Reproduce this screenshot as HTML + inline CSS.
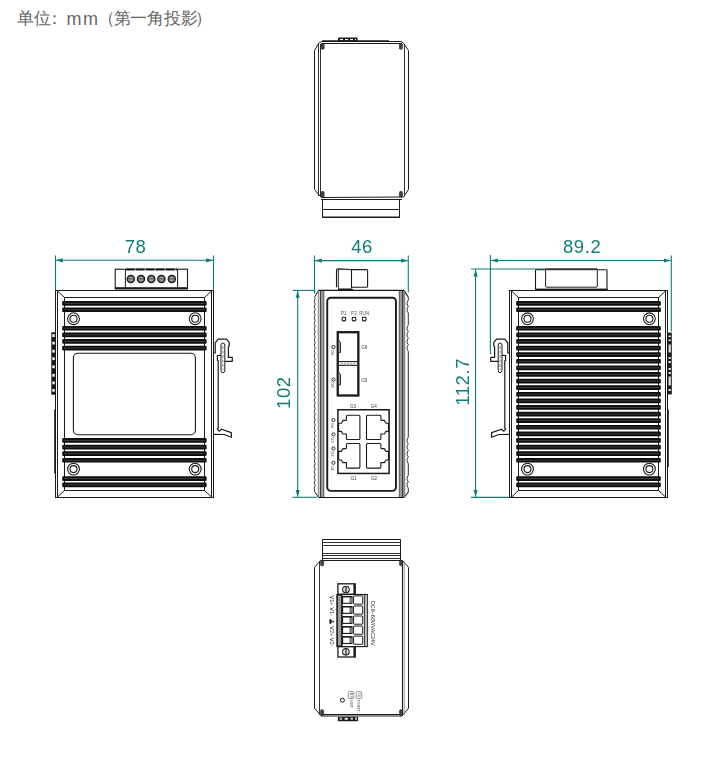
<!DOCTYPE html>
<html><head><meta charset="utf-8">
<style>
html,body{margin:0;padding:0;background:#fff;width:707px;height:761px;overflow:hidden}
.t{position:absolute;font-family:"Liberation Sans",sans-serif;color:#666;font-size:16px;line-height:1;white-space:nowrap}
svg{position:absolute;left:0;top:0}
</style></head><body>
<div class="t" style="left:17px;top:9.5px;font-size:17px">单位</div>
<div class="t" style="left:46px;top:9.5px;font-size:17px">：</div>
<div class="t" style="left:66.5px;top:10px;font-size:18px;letter-spacing:1.5px">mm</div>
<div class="t" style="left:98px;top:9.5px;font-size:17px">（</div>
<div class="t" style="left:114px;top:9.5px;font-size:17px">第</div>
<div class="t" style="left:130px;top:9.5px;font-size:17px">一</div>
<div class="t" style="left:147px;top:9.5px;font-size:17px">角</div>
<div class="t" style="left:164px;top:9.5px;font-size:17px">投</div>
<div class="t" style="left:181px;top:9.5px;font-size:17px">影</div>
<div class="t" style="left:195px;top:9.5px;font-size:17px">）</div>
<svg width="707" height="761" viewBox="0 0 707 761" style="will-change:transform">
<line x1="55.5" y1="255.5" x2="55.5" y2="291" stroke="#0e7d79" stroke-width="1.1" />
<line x1="213.5" y1="255.5" x2="213.5" y2="291" stroke="#0e7d79" stroke-width="1.1" />
<line x1="56" y1="260.3" x2="213" y2="260.3" stroke="#0e7d79" stroke-width="1.1" />
<path d="M56.00 260.30L62.80 258.20L62.80 262.40z" fill="#0e7d79"/>
<path d="M213.00 260.30L206.20 262.40L206.20 258.20z" fill="#0e7d79"/>
<line x1="314.5" y1="255.5" x2="314.5" y2="293.5" stroke="#0e7d79" stroke-width="1.1" />
<line x1="408.3" y1="255.5" x2="408.3" y2="292.4" stroke="#0e7d79" stroke-width="1.1" />
<line x1="315" y1="260.6" x2="407.8" y2="260.6" stroke="#0e7d79" stroke-width="1.1" />
<path d="M315.00 260.60L321.80 258.50L321.80 262.70z" fill="#0e7d79"/>
<path d="M407.80 260.60L401.00 262.70L401.00 258.50z" fill="#0e7d79"/>
<line x1="292.8" y1="290.4" x2="315.5" y2="290.4" stroke="#0e7d79" stroke-width="1.1" />
<line x1="292.3" y1="497.3" x2="316.8" y2="497.3" stroke="#0e7d79" stroke-width="1.1" />
<line x1="297.7" y1="291" x2="297.7" y2="496.8" stroke="#0e7d79" stroke-width="1.1" />
<path d="M297.70 291.00L299.80 297.80L295.60 297.80z" fill="#0e7d79"/>
<path d="M297.70 496.80L295.60 490.00L299.80 490.00z" fill="#0e7d79"/>
<line x1="490.4" y1="255" x2="490.4" y2="354.2" stroke="#0e7d79" stroke-width="1.1" />
<line x1="671.3" y1="255.6" x2="671.3" y2="331.6" stroke="#0e7d79" stroke-width="1.1" />
<line x1="491" y1="260.5" x2="670.8" y2="260.5" stroke="#0e7d79" stroke-width="1.1" />
<path d="M491.00 260.50L497.80 258.40L497.80 262.60z" fill="#0e7d79"/>
<path d="M670.80 260.50L664.00 262.60L664.00 258.40z" fill="#0e7d79"/>
<line x1="471" y1="269" x2="546" y2="269" stroke="#0e7d79" stroke-width="1.1" />
<line x1="471" y1="497.4" x2="515" y2="497.4" stroke="#0e7d79" stroke-width="1.1" />
<line x1="475.6" y1="269.6" x2="475.6" y2="496.8" stroke="#0e7d79" stroke-width="1.1" />
<path d="M475.60 269.60L477.70 276.40L473.50 276.40z" fill="#0e7d79"/>
<path d="M475.60 496.80L473.50 490.00L477.70 490.00z" fill="#0e7d79"/>
<g font-family="Liberation Sans, sans-serif" font-size="18.5" letter-spacing="0.6" fill="#0e7d79">
<text x="135.6" y="253.2" text-anchor="middle">78</text>
<text x="362.1" y="253.2" text-anchor="middle">46</text>
<text x="582.1" y="253.2" text-anchor="middle">89.2</text>
<text transform="translate(290.2 392.6) rotate(-90)" text-anchor="middle">102</text>
<text transform="translate(468.9 381.9) rotate(-90)" text-anchor="middle">112.7</text>
</g>
<rect x="55.5" y="290.5" width="158" height="207" fill="none" stroke="#1a1a1a" stroke-width="1.0"/>
<line x1="57.5" y1="291" x2="57.5" y2="497" stroke="#1a1a1a" stroke-width="1.0" />
<line x1="211.5" y1="291" x2="211.5" y2="497" stroke="#1a1a1a" stroke-width="1.0" />
<rect x="64.5" y="297.5" width="140" height="193" fill="none" stroke="#1a1a1a" stroke-width="1.0"/>
<line x1="57.5" y1="291" x2="64.5" y2="297.5" stroke="#1a1a1a" stroke-width="1.0" />
<line x1="211.5" y1="291" x2="204.5" y2="297.5" stroke="#1a1a1a" stroke-width="1.0" />
<line x1="57.5" y1="497" x2="64.5" y2="490.5" stroke="#1a1a1a" stroke-width="1.0" />
<line x1="211.5" y1="497" x2="204.5" y2="490.5" stroke="#1a1a1a" stroke-width="1.0" />
<rect x="62.20" y="301.00" width="144.40" height="4.7" rx="1.2" fill="#0d0d0d"/>
<line x1="64.20" y1="303.35" x2="204.60" y2="303.35" stroke="#4a4a4a" stroke-width="0.8"/>
<rect x="62.20" y="307.40" width="144.40" height="4.7" rx="1.2" fill="#0d0d0d"/>
<line x1="64.20" y1="309.75" x2="204.60" y2="309.75" stroke="#4a4a4a" stroke-width="0.8"/>
<rect x="62.20" y="325.90" width="144.40" height="4.7" rx="1.2" fill="#0d0d0d"/>
<line x1="64.20" y1="328.25" x2="204.60" y2="328.25" stroke="#4a4a4a" stroke-width="0.8"/>
<rect x="62.20" y="332.50" width="144.40" height="4.7" rx="1.2" fill="#0d0d0d"/>
<line x1="64.20" y1="334.85" x2="204.60" y2="334.85" stroke="#4a4a4a" stroke-width="0.8"/>
<rect x="62.20" y="339.10" width="144.40" height="4.7" rx="1.2" fill="#0d0d0d"/>
<line x1="64.20" y1="341.45" x2="204.60" y2="341.45" stroke="#4a4a4a" stroke-width="0.8"/>
<rect x="62.20" y="345.70" width="144.40" height="4.7" rx="1.2" fill="#0d0d0d"/>
<line x1="64.20" y1="348.05" x2="204.60" y2="348.05" stroke="#4a4a4a" stroke-width="0.8"/>
<rect x="62.20" y="438.10" width="144.40" height="4.7" rx="1.2" fill="#0d0d0d"/>
<line x1="64.20" y1="440.45" x2="204.60" y2="440.45" stroke="#4a4a4a" stroke-width="0.8"/>
<rect x="62.20" y="444.70" width="144.40" height="4.7" rx="1.2" fill="#0d0d0d"/>
<line x1="64.20" y1="447.05" x2="204.60" y2="447.05" stroke="#4a4a4a" stroke-width="0.8"/>
<rect x="62.20" y="451.30" width="144.40" height="4.7" rx="1.2" fill="#0d0d0d"/>
<line x1="64.20" y1="453.65" x2="204.60" y2="453.65" stroke="#4a4a4a" stroke-width="0.8"/>
<rect x="62.20" y="457.90" width="144.40" height="4.7" rx="1.2" fill="#0d0d0d"/>
<line x1="64.20" y1="460.25" x2="204.60" y2="460.25" stroke="#4a4a4a" stroke-width="0.8"/>
<rect x="62.20" y="476.20" width="144.40" height="4.7" rx="1.2" fill="#0d0d0d"/>
<line x1="64.20" y1="478.55" x2="204.60" y2="478.55" stroke="#4a4a4a" stroke-width="0.8"/>
<rect x="62.20" y="482.50" width="144.40" height="4.7" rx="1.2" fill="#0d0d0d"/>
<line x1="64.20" y1="484.85" x2="204.60" y2="484.85" stroke="#4a4a4a" stroke-width="0.8"/>
<circle cx="73.50" cy="318.70" r="5.90" fill="none" stroke="#1a1a1a" stroke-width="1.1"/>
<circle cx="73.50" cy="318.70" r="3.50" fill="none" stroke="#1a1a1a" stroke-width="1.1"/>
<circle cx="73.50" cy="469.10" r="5.90" fill="none" stroke="#1a1a1a" stroke-width="1.1"/>
<circle cx="73.50" cy="469.10" r="3.50" fill="none" stroke="#1a1a1a" stroke-width="1.1"/>
<circle cx="195.20" cy="318.70" r="5.90" fill="none" stroke="#1a1a1a" stroke-width="1.1"/>
<circle cx="195.20" cy="318.70" r="3.50" fill="none" stroke="#1a1a1a" stroke-width="1.1"/>
<circle cx="195.20" cy="469.10" r="5.90" fill="none" stroke="#1a1a1a" stroke-width="1.1"/>
<circle cx="195.20" cy="469.10" r="3.50" fill="none" stroke="#1a1a1a" stroke-width="1.1"/>
<rect x="73.40" y="353.30" width="122.00" height="81.50" rx="4.5" fill="none" stroke="#1a1a1a" stroke-width="1.1" />
<rect x="115.20" y="269.20" width="72.30" height="19.50" rx="0" fill="#fff" stroke="#1a1a1a" stroke-width="1.1" />
<line x1="125.4" y1="269.5" x2="125.4" y2="288" stroke="#1a1a1a" stroke-width="1.0" />
<line x1="177.6" y1="269.5" x2="177.6" y2="288" stroke="#1a1a1a" stroke-width="1.0" />
<rect x="115" y="287.2" width="72.7" height="2.1" fill="#1a1a1a"/>
<line x1="126" y1="269.5" x2="177" y2="269.5" stroke="#1a1a1a" stroke-width="2.0" stroke-dasharray="8.5 1.5"/>
<circle cx="130.80" cy="278.90" r="3.50" fill="#9a9a9a" stroke="#1a1a1a" stroke-width="1.5"/>
<line x1="127.80000000000001" y1="278.9" x2="133.8" y2="278.9" stroke="#555" stroke-width="1.0" />
<circle cx="141.00" cy="278.90" r="3.50" fill="#9a9a9a" stroke="#1a1a1a" stroke-width="1.5"/>
<line x1="138.0" y1="278.9" x2="144.0" y2="278.9" stroke="#555" stroke-width="1.0" />
<circle cx="151.30" cy="278.90" r="3.50" fill="#9a9a9a" stroke="#1a1a1a" stroke-width="1.5"/>
<line x1="148.3" y1="278.9" x2="154.3" y2="278.9" stroke="#555" stroke-width="1.0" />
<circle cx="161.40" cy="278.90" r="3.50" fill="#9a9a9a" stroke="#1a1a1a" stroke-width="1.5"/>
<line x1="158.4" y1="278.9" x2="164.4" y2="278.9" stroke="#555" stroke-width="1.0" />
<circle cx="171.80" cy="278.90" r="3.50" fill="#9a9a9a" stroke="#1a1a1a" stroke-width="1.5"/>
<line x1="168.8" y1="278.9" x2="174.8" y2="278.9" stroke="#555" stroke-width="1.0" />
<rect x="51.3" y="332.3" width="4.2" height="62.4" fill="#1a1a1a"/>
<rect x="52.3" y="334.2" width="2.5" height="2.8" fill="#f2f2f2"/>
<rect x="52.3" y="341.7" width="2.5" height="2.8" fill="#f2f2f2"/>
<rect x="52.3" y="349.8" width="2.5" height="2.8" fill="#f2f2f2"/>
<rect x="52.3" y="357.3" width="2.5" height="2.8" fill="#f2f2f2"/>
<rect x="52.3" y="365.4" width="2.5" height="2.8" fill="#f2f2f2"/>
<rect x="52.3" y="373.9" width="2.5" height="2.8" fill="#f2f2f2"/>
<rect x="52.3" y="381.5" width="2.5" height="2.8" fill="#f2f2f2"/>
<rect x="52.3" y="389.0" width="2.5" height="2.8" fill="#f2f2f2"/>
<line x1="54.6" y1="409.5" x2="54.6" y2="473.5" stroke="#1a1a1a" stroke-width="0.9" />
<path d="M213.80 353.00 L215.20 353.00 L215.20 342.80 L218.20 339.20 L226.50 339.20 L229.20 342.30 L229.20 346.10 L228.40 346.70 L228.40 357.40 L232.30 357.40 L232.30 361.30 L224.80 361.30" fill="none" stroke="#1a1a1a" stroke-width="1.2" stroke-linejoin="round" />
<path d="M221.00 355.30 L217.40 355.50 L217.40 360.50 L218.20 360.60 L218.20 428.20 L217.30 429.20 L219.20 431.20 L221.60 429.20 L231.30 432.60 L231.50 437.30 L224.10 434.50 L213.50 434.30" fill="none" stroke="#1a1a1a" stroke-width="1.2" stroke-linejoin="round" />
<rect x="221.00" y="343.1" width="3.8" height="29.5" rx="1.9" fill="#fff" stroke="#1a1a1a" stroke-width="1.0"/>
<line x1="222.90" y1="346" x2="222.90" y2="370" stroke="#777" stroke-width="0.9" stroke-dasharray="3 1.5"/>
<path d="M322.5 560.5 L322.5 539.5 L400.5 539.5 L400.5 560.5" fill="none" stroke="#1a1a1a" stroke-width="1.0" stroke-linejoin="round" />
<line x1="322.5" y1="542.5" x2="400.5" y2="542.5" stroke="#1a1a1a" stroke-width="0.9" />
<line x1="322.5" y1="545.5" x2="400.5" y2="545.5" stroke="#1a1a1a" stroke-width="0.9" />
<line x1="322.5" y1="553.5" x2="400.5" y2="553.5" stroke="#1a1a1a" stroke-width="0.9" />
<line x1="322.5" y1="555.5" x2="400.5" y2="555.5" stroke="#1a1a1a" stroke-width="0.9" />
<line x1="322.5" y1="558.5" x2="400.5" y2="558.5" stroke="#1a1a1a" stroke-width="0.9" />
<line x1="322.5" y1="539.5" x2="400.5" y2="539.5" stroke="#1a1a1a" stroke-width="1.2" />
<path d="M314.5 567.3 L320.6 560.5 L402.4 560.5 L408.5 567.3 L408.5 708.2 L402 716 L321.3 716 L314.5 708.2 Z" fill="none" stroke="#1a1a1a" stroke-width="1.0" stroke-linejoin="round" />
<line x1="319.5" y1="561" x2="319.5" y2="714.5" stroke="#1a1a1a" stroke-width="0.9" />
<line x1="402.5" y1="561" x2="402.5" y2="714.5" stroke="#1a1a1a" stroke-width="1.1" />
<line x1="404.2" y1="561" x2="404.2" y2="714.5" stroke="#888" stroke-width="0.9" />
<line x1="321" y1="714.5" x2="401.5" y2="714.5" stroke="#1a1a1a" stroke-width="1.0" />
<rect x="320.6" y="560.3" width="3" height="5.5" rx="1" fill="#444" stroke="#1a1a1a" stroke-width="0.6"/>
<rect x="320.6" y="709.8" width="3" height="5.8" rx="1" fill="#444" stroke="#1a1a1a" stroke-width="0.6"/>
<rect x="399.6" y="560.3" width="3" height="5.5" rx="1" fill="#444" stroke="#1a1a1a" stroke-width="0.6"/>
<rect x="399.6" y="709.8" width="3" height="5.8" rx="1" fill="#444" stroke="#1a1a1a" stroke-width="0.6"/>
<rect x="337.9" y="583.80" width="17.2" height="10.4" fill="#fff" stroke="#1a1a1a" stroke-width="1.3"/>
<rect x="353.4" y="583.80" width="2.2" height="10.4" fill="#1a1a1a"/>
<rect x="337.9" y="646.60" width="17.2" height="10.4" fill="#fff" stroke="#1a1a1a" stroke-width="1.3"/>
<rect x="353.4" y="646.60" width="2.2" height="10.4" fill="#1a1a1a"/>
<circle cx="345.90" cy="589.50" r="3.30" fill="none" stroke="#1a1a1a" stroke-width="1.1"/>
<line x1="345.3" y1="586.7" x2="345.3" y2="592.3" stroke="#1a1a1a" stroke-width="0.8" />
<line x1="346.7" y1="586.7" x2="346.7" y2="592.3" stroke="#1a1a1a" stroke-width="0.8" />
<circle cx="345.90" cy="651.80" r="3.30" fill="none" stroke="#1a1a1a" stroke-width="1.1"/>
<line x1="345.3" y1="649.0" x2="345.3" y2="654.5999999999999" stroke="#1a1a1a" stroke-width="0.8" />
<line x1="346.7" y1="649.0" x2="346.7" y2="654.5999999999999" stroke="#1a1a1a" stroke-width="0.8" />
<rect x="336.9" y="594.5" width="30.4" height="52.1" fill="#fff" stroke="#1a1a1a" stroke-width="1.1"/>
<rect x="337.3" y="595" width="4.4" height="51.1" rx="0.8" fill="#9c9c9c" stroke="#1a1a1a" stroke-width="1.1"/>
<line x1="342.0" y1="594.5" x2="342.0" y2="646.6" stroke="#1a1a1a" stroke-width="1.0" />
<rect x="364.8" y="595" width="2.2" height="51.1" fill="#b8b8b8"/>
<line x1="364.4" y1="594.5" x2="364.4" y2="646.6" stroke="#1a1a1a" stroke-width="0.9" />
<rect x="342.6" y="596.50" width="9.4" height="6.8" fill="none" stroke="#1a1a1a" stroke-width="1.1"/>
<line x1="342.2" y1="596.8" x2="352.2" y2="596.8" stroke="#1a1a1a" stroke-width="1.2" />
<line x1="350.2" y1="597.0" x2="350.2" y2="603.0" stroke="#1a1a1a" stroke-width="0.9" />
<rect x="353.6" y="595.90" width="9.1" height="8.2" rx="0.6" fill="none" stroke="#1a1a1a" stroke-width="1.0"/>
<rect x="342.6" y="606.55" width="9.4" height="6.8" fill="none" stroke="#1a1a1a" stroke-width="1.1"/>
<line x1="342.2" y1="606.8499999999999" x2="352.2" y2="606.8499999999999" stroke="#1a1a1a" stroke-width="1.2" />
<line x1="350.2" y1="607.05" x2="350.2" y2="613.05" stroke="#1a1a1a" stroke-width="0.9" />
<rect x="353.6" y="605.95" width="9.1" height="8.2" rx="0.6" fill="none" stroke="#1a1a1a" stroke-width="1.0"/>
<rect x="342.6" y="616.60" width="9.4" height="6.8" fill="none" stroke="#1a1a1a" stroke-width="1.1"/>
<line x1="342.2" y1="616.9" x2="352.2" y2="616.9" stroke="#1a1a1a" stroke-width="1.2" />
<line x1="350.2" y1="617.1" x2="350.2" y2="623.1" stroke="#1a1a1a" stroke-width="0.9" />
<rect x="353.6" y="616.00" width="9.1" height="8.2" rx="0.6" fill="none" stroke="#1a1a1a" stroke-width="1.0"/>
<rect x="342.6" y="626.65" width="9.4" height="6.8" fill="none" stroke="#1a1a1a" stroke-width="1.1"/>
<line x1="342.2" y1="626.9499999999999" x2="352.2" y2="626.9499999999999" stroke="#1a1a1a" stroke-width="1.2" />
<line x1="350.2" y1="627.15" x2="350.2" y2="633.15" stroke="#1a1a1a" stroke-width="0.9" />
<rect x="353.6" y="626.05" width="9.1" height="8.2" rx="0.6" fill="none" stroke="#1a1a1a" stroke-width="1.0"/>
<rect x="342.6" y="636.70" width="9.4" height="6.8" fill="none" stroke="#1a1a1a" stroke-width="1.1"/>
<line x1="342.2" y1="637.0" x2="352.2" y2="637.0" stroke="#1a1a1a" stroke-width="1.2" />
<line x1="350.2" y1="637.2" x2="350.2" y2="643.2" stroke="#1a1a1a" stroke-width="0.9" />
<rect x="353.6" y="636.10" width="9.1" height="8.2" rx="0.6" fill="none" stroke="#1a1a1a" stroke-width="1.0"/>
<g font-family="Liberation Sans, sans-serif" font-size="5.6" fill="#222">
<text transform="translate(329.6 595.5) rotate(90)">V1+ V1-</text>
<text transform="translate(329.6 626.2) rotate(90)">V2+ V2-</text>
<text transform="translate(371 601) rotate(90)" font-size="5.3">DC9~60V/VAC24V</text>
</g>
<rect x="329.4" y="619.2" width="1.6" height="4.6" fill="#1a1a1a"/>
<line x1="331.8" y1="619.8" x2="331.8" y2="623.2" stroke="#1a1a1a" stroke-width="0.9" />
<line x1="333.6" y1="620.6" x2="333.6" y2="622.4" stroke="#1a1a1a" stroke-width="0.8" />
<line x1="331" y1="621.5" x2="334" y2="621.5" stroke="#1a1a1a" stroke-width="0.6" />
<circle cx="342.40" cy="700.20" r="2.00" fill="none" stroke="#1a1a1a" stroke-width="1.0"/>
<rect x="348.40" y="691.60" width="5.40" height="6.90" rx="0.8" fill="none" stroke="#8a8a8a" stroke-width="0.9" />
<rect x="356.30" y="691.60" width="5.40" height="6.90" rx="0.8" fill="none" stroke="#8a8a8a" stroke-width="0.9" />
<g font-family="Liberation Sans, sans-serif" fill="#555">
<text transform="translate(349.6 692.8) rotate(90)" font-size="3.6">RS</text>
<text transform="translate(357.5 692.8) rotate(90)" font-size="3.6">1X</text>
<text transform="translate(349.8 700.3) rotate(90)" font-size="4.1">INIT</text>
<text transform="translate(356.8 700.3) rotate(90)" font-size="4.1">PORT</text>
</g>
<rect x="337.9" y="716.6" width="20.2" height="4.7" rx="0.8" fill="#1a1a1a"/>
<rect x="339.6" y="717.6" width="2.6" height="2.2" fill="#bbb"/><rect x="344.6" y="717.8" width="3.2" height="2" fill="#eee"/><rect x="350.4" y="717.6" width="2.6" height="2.2" fill="#bbb"/><rect x="355" y="717.6" width="2" height="2.2" fill="#ccc"/>
<line x1="337.9" y1="716.3" x2="400" y2="716.3" stroke="#999" stroke-width="0.8" />
<rect x="509.5" y="290.5" width="158" height="207" fill="none" stroke="#1a1a1a" stroke-width="1.0"/>
<line x1="511.5" y1="291" x2="511.5" y2="497" stroke="#1a1a1a" stroke-width="1.0" />
<line x1="665.5" y1="291" x2="665.5" y2="497" stroke="#1a1a1a" stroke-width="1.0" />
<rect x="518.5" y="297.5" width="140" height="193" fill="none" stroke="#1a1a1a" stroke-width="1.0"/>
<line x1="511.5" y1="291" x2="518.5" y2="297.5" stroke="#1a1a1a" stroke-width="1.0" />
<line x1="665.5" y1="291" x2="658.5" y2="297.5" stroke="#1a1a1a" stroke-width="1.0" />
<line x1="511.5" y1="497" x2="518.5" y2="490.5" stroke="#1a1a1a" stroke-width="1.0" />
<line x1="665.5" y1="497" x2="658.5" y2="490.5" stroke="#1a1a1a" stroke-width="1.0" />
<rect x="516.20" y="301.00" width="144.60" height="4.7" rx="1.2" fill="#0d0d0d"/>
<line x1="518.20" y1="303.35" x2="658.80" y2="303.35" stroke="#4a4a4a" stroke-width="0.8"/>
<rect x="516.20" y="307.40" width="144.60" height="4.7" rx="1.2" fill="#0d0d0d"/>
<line x1="518.20" y1="309.75" x2="658.80" y2="309.75" stroke="#4a4a4a" stroke-width="0.8"/>
<rect x="516.20" y="325.90" width="144.60" height="4.7" rx="1.2" fill="#0d0d0d"/>
<line x1="518.20" y1="328.25" x2="658.80" y2="328.25" stroke="#4a4a4a" stroke-width="0.8"/>
<rect x="516.20" y="332.50" width="144.60" height="4.7" rx="1.2" fill="#0d0d0d"/>
<line x1="518.20" y1="334.85" x2="658.80" y2="334.85" stroke="#4a4a4a" stroke-width="0.8"/>
<rect x="516.20" y="339.10" width="144.60" height="4.7" rx="1.2" fill="#0d0d0d"/>
<line x1="518.20" y1="341.45" x2="658.80" y2="341.45" stroke="#4a4a4a" stroke-width="0.8"/>
<rect x="516.20" y="345.70" width="144.60" height="4.7" rx="1.2" fill="#0d0d0d"/>
<line x1="518.20" y1="348.05" x2="658.80" y2="348.05" stroke="#4a4a4a" stroke-width="0.8"/>
<rect x="516.20" y="352.30" width="144.60" height="4.7" rx="1.2" fill="#0d0d0d"/>
<line x1="518.20" y1="354.65" x2="658.80" y2="354.65" stroke="#4a4a4a" stroke-width="0.8"/>
<rect x="516.20" y="358.90" width="144.60" height="4.7" rx="1.2" fill="#0d0d0d"/>
<line x1="518.20" y1="361.25" x2="658.80" y2="361.25" stroke="#4a4a4a" stroke-width="0.8"/>
<rect x="516.20" y="365.50" width="144.60" height="4.7" rx="1.2" fill="#0d0d0d"/>
<line x1="518.20" y1="367.85" x2="658.80" y2="367.85" stroke="#4a4a4a" stroke-width="0.8"/>
<rect x="516.20" y="372.10" width="144.60" height="4.7" rx="1.2" fill="#0d0d0d"/>
<line x1="518.20" y1="374.45" x2="658.80" y2="374.45" stroke="#4a4a4a" stroke-width="0.8"/>
<rect x="516.20" y="378.70" width="144.60" height="4.7" rx="1.2" fill="#0d0d0d"/>
<line x1="518.20" y1="381.05" x2="658.80" y2="381.05" stroke="#4a4a4a" stroke-width="0.8"/>
<rect x="516.20" y="385.30" width="144.60" height="4.7" rx="1.2" fill="#0d0d0d"/>
<line x1="518.20" y1="387.65" x2="658.80" y2="387.65" stroke="#4a4a4a" stroke-width="0.8"/>
<rect x="516.20" y="391.90" width="144.60" height="4.7" rx="1.2" fill="#0d0d0d"/>
<line x1="518.20" y1="394.25" x2="658.80" y2="394.25" stroke="#4a4a4a" stroke-width="0.8"/>
<rect x="516.20" y="398.50" width="144.60" height="4.7" rx="1.2" fill="#0d0d0d"/>
<line x1="518.20" y1="400.85" x2="658.80" y2="400.85" stroke="#4a4a4a" stroke-width="0.8"/>
<rect x="516.20" y="405.10" width="144.60" height="4.7" rx="1.2" fill="#0d0d0d"/>
<line x1="518.20" y1="407.45" x2="658.80" y2="407.45" stroke="#4a4a4a" stroke-width="0.8"/>
<rect x="516.20" y="411.70" width="144.60" height="4.7" rx="1.2" fill="#0d0d0d"/>
<line x1="518.20" y1="414.05" x2="658.80" y2="414.05" stroke="#4a4a4a" stroke-width="0.8"/>
<rect x="516.20" y="418.30" width="144.60" height="4.7" rx="1.2" fill="#0d0d0d"/>
<line x1="518.20" y1="420.65" x2="658.80" y2="420.65" stroke="#4a4a4a" stroke-width="0.8"/>
<rect x="516.20" y="424.90" width="144.60" height="4.7" rx="1.2" fill="#0d0d0d"/>
<line x1="518.20" y1="427.25" x2="658.80" y2="427.25" stroke="#4a4a4a" stroke-width="0.8"/>
<rect x="516.20" y="431.50" width="144.60" height="4.7" rx="1.2" fill="#0d0d0d"/>
<line x1="518.20" y1="433.85" x2="658.80" y2="433.85" stroke="#4a4a4a" stroke-width="0.8"/>
<rect x="516.20" y="438.10" width="144.60" height="4.7" rx="1.2" fill="#0d0d0d"/>
<line x1="518.20" y1="440.45" x2="658.80" y2="440.45" stroke="#4a4a4a" stroke-width="0.8"/>
<rect x="516.20" y="444.70" width="144.60" height="4.7" rx="1.2" fill="#0d0d0d"/>
<line x1="518.20" y1="447.05" x2="658.80" y2="447.05" stroke="#4a4a4a" stroke-width="0.8"/>
<rect x="516.20" y="451.30" width="144.60" height="4.7" rx="1.2" fill="#0d0d0d"/>
<line x1="518.20" y1="453.65" x2="658.80" y2="453.65" stroke="#4a4a4a" stroke-width="0.8"/>
<rect x="516.20" y="457.90" width="144.60" height="4.7" rx="1.2" fill="#0d0d0d"/>
<line x1="518.20" y1="460.25" x2="658.80" y2="460.25" stroke="#4a4a4a" stroke-width="0.8"/>
<rect x="516.20" y="476.20" width="144.60" height="4.7" rx="1.2" fill="#0d0d0d"/>
<line x1="518.20" y1="478.55" x2="658.80" y2="478.55" stroke="#4a4a4a" stroke-width="0.8"/>
<rect x="516.20" y="482.50" width="144.60" height="4.7" rx="1.2" fill="#0d0d0d"/>
<line x1="518.20" y1="484.85" x2="658.80" y2="484.85" stroke="#4a4a4a" stroke-width="0.8"/>
<circle cx="527.50" cy="318.80" r="5.90" fill="none" stroke="#1a1a1a" stroke-width="1.1"/>
<circle cx="527.50" cy="318.80" r="3.50" fill="none" stroke="#1a1a1a" stroke-width="1.1"/>
<circle cx="527.50" cy="469.10" r="5.90" fill="none" stroke="#1a1a1a" stroke-width="1.1"/>
<circle cx="527.50" cy="469.10" r="3.50" fill="none" stroke="#1a1a1a" stroke-width="1.1"/>
<circle cx="649.40" cy="318.80" r="5.90" fill="none" stroke="#1a1a1a" stroke-width="1.1"/>
<circle cx="649.40" cy="318.80" r="3.50" fill="none" stroke="#1a1a1a" stroke-width="1.1"/>
<circle cx="649.40" cy="469.10" r="5.90" fill="none" stroke="#1a1a1a" stroke-width="1.1"/>
<circle cx="649.40" cy="469.10" r="3.50" fill="none" stroke="#1a1a1a" stroke-width="1.1"/>
<path d="M535.5 290 L535.5 270.3 Q535.5 269.8 536.2 269.8 L545.6 269.8" fill="none" stroke="#1a1a1a" stroke-width="1.1" stroke-linejoin="round" />
<path d="M597.3 269.8 L606.4 269.8 Q607 269.8 607 270.5 L607 290" fill="none" stroke="#1a1a1a" stroke-width="1.1" stroke-linejoin="round" />
<rect x="545.6" y="269.2" width="51.7" height="18" rx="1" fill="none" stroke="#1a1a1a" stroke-width="1.0"/>
<rect x="545.6" y="268.4" width="51.7" height="1.8" fill="#333"/>
<rect x="535.2" y="288.6" width="72.3" height="1.6" fill="#1a1a1a"/>
<rect x="667.6" y="332.6" width="4.2" height="61.8" fill="#1a1a1a"/>
<rect x="668.6" y="335.5" width="2.2" height="1.6" fill="#e8e8e8"/>
<rect x="668.6" y="339.5" width="2.2" height="1.6" fill="#e8e8e8"/>
<rect x="668.6" y="344.5" width="2.2" height="8" fill="#e8e8e8"/>
<rect x="668.6" y="357.0" width="2.2" height="1.8" fill="#e8e8e8"/>
<rect x="668.6" y="361.0" width="2.2" height="2" fill="#e8e8e8"/>
<rect x="668.6" y="368.0" width="2.2" height="2" fill="#e8e8e8"/>
<rect x="668.6" y="372.0" width="2.2" height="2" fill="#e8e8e8"/>
<rect x="668.6" y="376.5" width="2.2" height="9" fill="#e8e8e8"/>
<rect x="668.6" y="389.0" width="2.2" height="2" fill="#e8e8e8"/>
<line x1="668.4" y1="409.5" x2="668.4" y2="467" stroke="#1a1a1a" stroke-width="0.9" />
<path d="M509.20 353.00 L507.80 353.00 L507.80 342.80 L504.80 339.20 L496.50 339.20 L493.80 342.30 L493.80 346.10 L494.60 346.70 L494.60 357.40 L490.70 357.40 L490.70 361.30 L498.20 361.30" fill="none" stroke="#1a1a1a" stroke-width="1.2" stroke-linejoin="round" />
<path d="M502.00 355.30 L505.60 355.50 L505.60 360.50 L504.80 360.60 L504.80 428.20 L505.70 429.20 L503.80 431.20 L501.40 429.20 L491.70 432.60 L491.50 437.30 L498.90 434.50 L509.50 434.30" fill="none" stroke="#1a1a1a" stroke-width="1.2" stroke-linejoin="round" />
<rect x="498.20" y="343.1" width="3.8" height="29.5" rx="1.9" fill="#fff" stroke="#1a1a1a" stroke-width="1.0"/>
<line x1="500.10" y1="346" x2="500.10" y2="370" stroke="#777" stroke-width="0.9" stroke-dasharray="3 1.5"/>
<rect x="338" y="37.5" width="19.6" height="4" rx="0.8" fill="#1a1a1a"/>
<line x1="340" y1="39.6" x2="356" y2="39.6" stroke="#fff" stroke-width="1.2" stroke-dasharray="3 2"/>
<path d="M314.5 189.5 L314.5 50.5 L318.6 43.3 L321.5 41.5 L401 41.5 L403.5 43.3 L408.5 50.5 L408.5 189.5 L403.5 197 L321.3 197.5 Z" fill="none" stroke="#1a1a1a" stroke-width="1.0" stroke-linejoin="round" />
<line x1="318.5" y1="44" x2="318.5" y2="196" stroke="#1a1a1a" stroke-width="0.9" />
<line x1="320.5" y1="44" x2="320.5" y2="196" stroke="#1a1a1a" stroke-width="0.9" />
<line x1="404.5" y1="44" x2="404.5" y2="196" stroke="#1a1a1a" stroke-width="0.9" />
<line x1="321" y1="43.5" x2="402" y2="43.5" stroke="#1a1a1a" stroke-width="1.0" />
<line x1="321" y1="199.5" x2="402" y2="199.5" stroke="#1a1a1a" stroke-width="1.0" />
<line x1="322.3" y1="41" x2="389" y2="41" stroke="#1a1a1a" stroke-width="1.5" />
<rect x="321.1" y="43.6" width="3" height="5.6" rx="1" fill="#444" stroke="#1a1a1a" stroke-width="0.6"/>
<rect x="321.1" y="191.5" width="3" height="5.6" rx="1" fill="#444" stroke="#1a1a1a" stroke-width="0.6"/>
<rect x="399.4" y="43.6" width="3" height="5.6" rx="1" fill="#444" stroke="#1a1a1a" stroke-width="0.6"/>
<rect x="399.4" y="191.5" width="3" height="5.6" rx="1" fill="#444" stroke="#1a1a1a" stroke-width="0.6"/>
<path d="M322.5 199.5 L322.5 217.5 L399.5 217.5 L399.5 199.5" fill="none" stroke="#1a1a1a" stroke-width="1.0" stroke-linejoin="round" />
<line x1="322.5" y1="209.5" x2="399.5" y2="209.5" stroke="#1a1a1a" stroke-width="1.0" />
<line x1="322.5" y1="217.3" x2="399.5" y2="217.3" stroke="#1a1a1a" stroke-width="1.4" />
<path d="M318.5 290.4 L403.9 290.4 L408.4 297.2" fill="none" stroke="#1a1a1a" stroke-width="1.1" stroke-linejoin="round" />
<path d="M318.5 497.5 L404 497.5 L408.4 492" fill="none" stroke="#1a1a1a" stroke-width="1.1" stroke-linejoin="round" />
<path d="M318.5 290.4 L314.6 297.2" fill="none" stroke="#1a1a1a" stroke-width="1.0" stroke-linejoin="round" />
<path d="M318.5 497.5 L314.6 491.6" fill="none" stroke="#1a1a1a" stroke-width="1.0" stroke-linejoin="round" />
<path d="M314.6 297.2 q1.2 1.375 0 2.75 q-0.6 1.375 0 2.75 q1.2 1.375 0 2.75 q-0.6 1.375 0 2.75 q1.2 1.375 0 2.75 q-0.6 1.375 0 2.75 q1.2 1.375 0 2.75 q-0.6 1.375 0 2.75 q1.2 1.375 0 2.75 q-0.6 1.375 0 2.75 q1.2 1.375 0 2.75 q-0.6 1.375 0 2.75 q1.2 1.375 0 2.75 q-0.6 1.375 0 2.75 q1.2 1.375 0 2.75 q-0.6 1.375 0 2.75 q1.2 1.375 0 2.75 q-0.6 1.375 0 2.75 q1.2 1.375 0 2.75 q-0.6 1.375 0 2.75 q1.2 1.375 0 2.75 q-0.6 1.375 0 2.75 q1.2 1.375 0 2.75 q-0.6 1.375 0 2.75 q1.2 1.375 0 2.75 q-0.6 1.375 0 2.75 q1.2 1.375 0 2.75 q-0.6 1.375 0 2.75 q1.2 1.375 0 2.75 q-0.6 1.375 0 2.75 q1.2 1.375 0 2.75 q-0.6 1.375 0 2.75 q1.2 1.375 0 2.75 q-0.6 1.375 0 2.75 q1.2 1.375 0 2.75 q-0.6 1.375 0 2.75 q1.2 1.375 0 2.75 q-0.6 1.375 0 2.75 q1.2 1.375 0 2.75 q-0.6 1.375 0 2.75 q1.2 1.375 0 2.75 q-0.6 1.375 0 2.75 q1.2 1.375 0 2.75 q-0.6 1.375 0 2.75 q1.2 1.375 0 2.75 q-0.6 1.375 0 2.75 q1.2 1.375 0 2.75 q-0.6 1.375 0 2.75 q1.2 1.375 0 2.75 q-0.6 1.375 0 2.75 q1.2 1.375 0 2.75 q-0.6 1.375 0 2.75 q1.2 1.375 0 2.75 q-0.6 1.375 0 2.75 q1.2 1.375 0 2.75 q-0.6 1.375 0 2.75 q1.2 1.375 0 2.75 q-0.6 1.375 0 2.75 q1.2 1.375 0 2.75 q-0.6 1.375 0 2.75 q1.2 1.375 0 2.75 q-0.6 1.375 0 2.75 q1.2 1.375 0 2.75 q-0.6 1.375 0 2.75 q1.2 1.375 0 2.75 q-0.6 1.375 0 2.75 q1.2 1.375 0 2.75 q-0.6 1.375 0 2.75 q1.2 1.375 0 2.75 q-0.6 1.375 0 2.75 L314.6 491.6" fill="none" stroke="#1a1a1a" stroke-width="0.9" stroke-linejoin="round" />
<path d="M408.30 297.20 L408.30 300.05 Q407.00 301.75 407.00 303.35 Q407.00 304.95 408.30 306.65 L408.30 306.45 Q407.00 308.15 407.00 309.75 Q407.00 311.35 408.30 313.05 L408.30 324.95 Q407.00 326.65 407.00 328.25 Q407.00 329.85 408.30 331.55 L408.30 331.55 Q407.00 333.25 407.00 334.85 Q407.00 336.45 408.30 338.15 L408.30 338.15 Q407.00 339.85 407.00 341.45 Q407.00 343.05 408.30 344.75 L408.30 344.75 Q407.00 346.45 407.00 348.05 Q407.00 349.65 408.30 351.35 L408.30 437.15 Q407.00 438.85 407.00 440.45 Q407.00 442.05 408.30 443.75 L408.30 443.75 Q407.00 445.45 407.00 447.05 Q407.00 448.65 408.30 450.35 L408.30 450.35 Q407.00 452.05 407.00 453.65 Q407.00 455.25 408.30 456.95 L408.30 456.95 Q407.00 458.65 407.00 460.25 Q407.00 461.85 408.30 463.55 L408.30 475.25 Q407.00 476.95 407.00 478.55 Q407.00 480.15 408.30 481.85 L408.30 481.55 Q407.00 483.25 407.00 484.85 Q407.00 486.45 408.30 488.15 L408.30 492.00" fill="none" stroke="#1a1a1a" stroke-width="0.9" stroke-linejoin="round" />
<rect x="320.6" y="291" width="3" height="206" fill="#9a9a9a"/>
<line x1="318.3" y1="291" x2="318.3" y2="497" stroke="#555" stroke-width="0.8" />
<line x1="320.3" y1="291" x2="320.3" y2="497" stroke="#1a1a1a" stroke-width="1.0" />
<line x1="323.8" y1="291" x2="323.8" y2="497" stroke="#444" stroke-width="0.9" />
<rect x="399.5" y="291" width="3" height="206" fill="#9a9a9a"/>
<rect x="402.8" y="291" width="1.8" height="206" fill="#b0b0b0"/>
<line x1="399.3" y1="291" x2="399.3" y2="497" stroke="#444" stroke-width="0.9" />
<line x1="402.7" y1="291" x2="402.7" y2="497" stroke="#1a1a1a" stroke-width="1.0" />
<line x1="404.7" y1="291" x2="404.7" y2="497" stroke="#555" stroke-width="0.8" />
<rect x="327.25" y="297.75" width="68.7" height="193.1" rx="3.5" fill="none" stroke="#1a1a1a" stroke-width="1.9"/>
<path d="M336.5 287.2 L336.5 270 Q336.5 269 338 268.9 L351.5 269.5 L351.5 288.5" fill="#fff" stroke="#1a1a1a" stroke-width="1.1" stroke-linejoin="round" />
<path d="M338.3 270 L338.3 288 Q338.3 289 339.5 289 L351.5 289" fill="none" stroke="#1a1a1a" stroke-width="1.0" stroke-linejoin="round" />
<path d="M351.8 269.6 L366.6 269.6 Q367.6 269.6 367.6 270.6 L367.6 286.4 Q367.6 287.3 366.6 287.3 L352 287.3" fill="none" stroke="#1a1a1a" stroke-width="1.1" stroke-linejoin="round" />
<rect x="338" y="289" width="15" height="1.2" fill="#1a1a1a"/>
<g font-family="Liberation Sans, sans-serif" font-size="4.9" fill="#555">
<text x="340.8" y="315.2">P1</text><text x="351" y="315.2">P2</text><text x="359.2" y="315.2" textLength="10" lengthAdjust="spacingAndGlyphs">RUN</text>
</g>
<rect x="342.15" y="317.30" width="3.50" height="3.60" rx="0.9" fill="none" stroke="#1a1a1a" stroke-width="1.1" />
<rect x="352.25" y="317.30" width="3.50" height="3.60" rx="0.9" fill="none" stroke="#1a1a1a" stroke-width="1.1" />
<rect x="362.45" y="317.30" width="3.50" height="3.60" rx="0.9" fill="none" stroke="#1a1a1a" stroke-width="1.1" />
<rect x="337.75" y="332.2" width="20.6" height="63.3" fill="none" stroke="#1a1a1a" stroke-width="2.3"/>
<line x1="338.5" y1="361.6" x2="357.5" y2="361.6" stroke="#1a1a1a" stroke-width="1.1" />
<line x1="338.5" y1="365.3" x2="357.5" y2="365.3" stroke="#1a1a1a" stroke-width="1.1" />
<line x1="341" y1="363.6" x2="355" y2="363.6" stroke="#666" stroke-width="0.6" stroke-dasharray="2 1"/>
<path d="M338.8 340.3 L340.4 342.3 L340.4 352.4 L338.8 352.8" fill="#b8b8b8" stroke="#1a1a1a" stroke-width="1.0" stroke-linejoin="round" />
<path d="M338.8 372.3 L340.4 374.3 L340.4 384.8 L338.8 385.2" fill="#b8b8b8" stroke="#1a1a1a" stroke-width="1.0" stroke-linejoin="round" />
<circle cx="333.40" cy="347.10" r="1.60" fill="none" stroke="#1a1a1a" stroke-width="0.9"/>
<circle cx="333.40" cy="379.60" r="1.60" fill="none" stroke="#1a1a1a" stroke-width="0.9"/>
<g font-family="Liberation Sans, sans-serif" font-size="4.6" fill="#3a3a3a">
<text x="361.3" y="349.2">G6</text><text x="361.3" y="381.8">G5</text>
<text x="350" y="407.6">G3</text><text x="370.8" y="407.6">G4</text>
<text x="350.5" y="480.2">G1</text><text x="371" y="480.2">G2</text>
<text transform="translate(331.2 349.7) rotate(90)" font-size="4.1">G6</text>
<text transform="translate(331.2 382.2) rotate(90)" font-size="4.1">G5</text>
<text transform="translate(331.2 422.7) rotate(90)" font-size="4.1">G4</text>
<text transform="translate(331.2 437.0) rotate(90)" font-size="4.1">G3</text>
<text transform="translate(331.2 451.0) rotate(90)" font-size="4.1">G2</text>
<text transform="translate(331.2 465.4) rotate(90)" font-size="4.1">G1</text>
</g>
<rect x="337.9" y="409.75" width="51.2" height="63.7" fill="none" stroke="#1a1a1a" stroke-width="1.5"/>
<path d="M346.4 420.40000000000003 L346.4 416.3 Q346.4 415.3 347.4 415.3 L358.9 415.3 Q359.9 415.3 359.9 416.3 L359.9 438.5 Q359.9 439.5 358.9 439.5 L347.4 439.5 Q346.4 439.5 346.4 438.5 L346.4 434.0 L343.00 434.00 L341.30 431.40 L338.60 431.40 L338.60 423.20 L341.30 423.20 L343.00 420.40 L346.40 420.40" fill="none" stroke="#1a1a1a" stroke-width="1.1" stroke-linejoin="round" />
<path d="M380.9 420.40000000000003 L380.9 416.3 Q380.9 415.3 379.9 415.3 L367.5 415.3 Q366.5 415.3 366.5 416.3 L366.5 438.5 Q366.5 439.5 367.5 439.5 L379.9 439.5 Q380.9 439.5 380.9 438.5 L380.9 434.0 L384.30 434.00 L386.00 431.40 L388.50 431.40 L388.50 423.20 L386.00 423.20 L384.30 420.40 L380.90 420.40" fill="none" stroke="#1a1a1a" stroke-width="1.1" stroke-linejoin="round" />
<path d="M346.4 448.6 L346.4 444.5 Q346.4 443.5 347.4 443.5 L358.9 443.5 Q359.9 443.5 359.9 444.5 L359.9 467.1 Q359.9 468.1 358.9 468.1 L347.4 468.1 Q346.4 468.1 346.4 467.1 L346.4 462.6 L343.00 462.60 L341.30 460.00 L338.60 460.00 L338.60 451.40 L341.30 451.40 L343.00 448.60 L346.40 448.60" fill="none" stroke="#1a1a1a" stroke-width="1.1" stroke-linejoin="round" />
<path d="M380.9 448.6 L380.9 444.5 Q380.9 443.5 379.9 443.5 L367.5 443.5 Q366.5 443.5 366.5 444.5 L366.5 467.1 Q366.5 468.1 367.5 468.1 L379.9 468.1 Q380.9 468.1 380.9 467.1 L380.9 462.6 L384.30 462.60 L386.00 460.00 L388.50 460.00 L388.50 451.40 L386.00 451.40 L384.30 448.60 L380.90 448.60" fill="none" stroke="#1a1a1a" stroke-width="1.1" stroke-linejoin="round" />
<circle cx="333.40" cy="420.10" r="1.60" fill="none" stroke="#1a1a1a" stroke-width="0.9"/>
<circle cx="333.40" cy="434.40" r="1.60" fill="none" stroke="#1a1a1a" stroke-width="0.9"/>
<circle cx="333.40" cy="448.40" r="1.60" fill="none" stroke="#1a1a1a" stroke-width="0.9"/>
<circle cx="333.40" cy="462.80" r="1.60" fill="none" stroke="#1a1a1a" stroke-width="0.9"/>
</svg>
</body></html>
